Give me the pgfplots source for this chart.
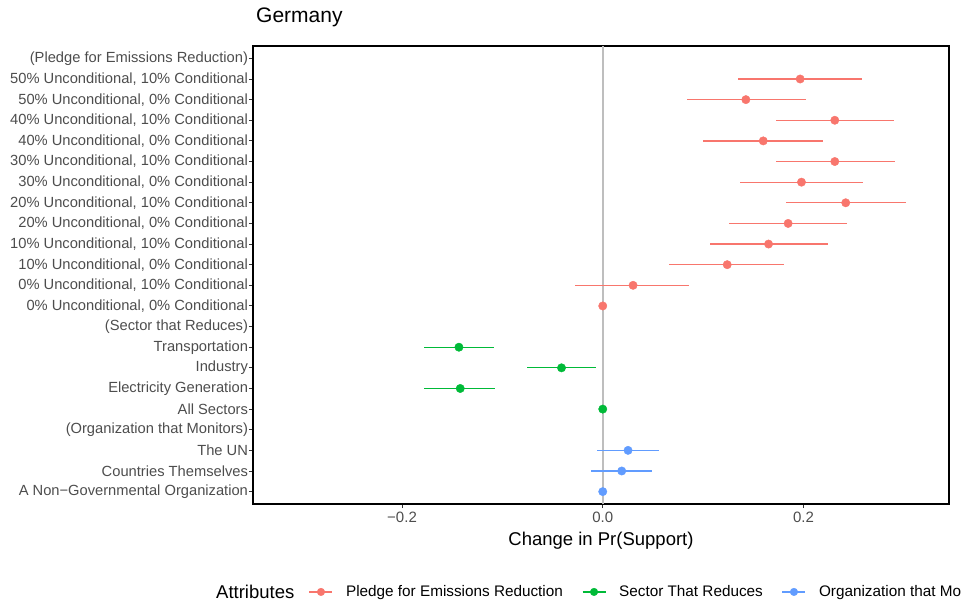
\documentclass[border=0pt]{standalone}
\usepackage{pgfplots}
\pgfplotsset{compat=1.18}
\usepackage{pgfplotstable}
\usepackage{fontspec}
\setmainfont{Liberation Sans}
\definecolor{cR}{HTML}{F8766D}
\definecolor{cG}{HTML}{00BA38}
\definecolor{cB}{HTML}{619CFF}
\definecolor{txt}{HTML}{4D4D4D}
\definecolor{zl}{HTML}{BEBEBE}

\pgfplotstableread{
x y lo hi
0 10 0 0
0.0302 11 -0.0272 0.0862
0.1240 12 0.0663 0.1808
0.1652 13 0.1068 0.2245
0.1847 14 0.1254 0.2434
0.2421 15 0.1821 0.3022
0.1980 16 0.1366 0.2590
0.2312 17 0.1728 0.2912
0.1599 18 0.0998 0.2199
0.2312 19 0.1725 0.2902
0.1426 20 0.0836 0.2027
0.1967 21 0.1346 0.2587
}\pledge

\pgfplotstableread{
x y lo hi
0 5 0 0
-0.1420 6 -0.1781 -0.1071
-0.0411 7 -0.0759 -0.0063
-0.1433 8 -0.1781 -0.1081
}\sector

\pgfplotstableread{
x y lo hi
0 1 0 0
0.0189 2 -0.0119 0.0494
0.0252 3 -0.0053 0.0557
}\org

\begin{document}
\begin{tikzpicture}
\useasboundingbox (0pt,0pt) rectangle (961pt,608pt);
\clip (0pt,0pt) rectangle (961pt,608pt);
\begin{axis}[
  at={(253pt,104pt)}, anchor=south west,
  scale only axis, width=696pt, height=458pt,
  xmin=-0.3485, xmax=0.345, ymin=0.4, ymax=22.6,
  axis line style={line width=1.2pt, black},
  xtick={-0.2,0,0.2},
  xticklabels={−0.2,0.0,0.2},
  ytick={1,...,22},
  yticklabels={A Non−Governmental Organization, Countries Themselves, The UN, (Organization that Monitors), All Sectors, Electricity Generation, Industry, Transportation, (Sector that Reduces), {0\% Unconditional, 0\% Conditional}, {0\% Unconditional, 10\% Conditional}, {10\% Unconditional, 0\% Conditional}, {10\% Unconditional, 10\% Conditional}, {20\% Unconditional, 0\% Conditional}, {20\% Unconditional, 10\% Conditional}, {30\% Unconditional, 0\% Conditional}, {30\% Unconditional, 10\% Conditional}, {40\% Unconditional, 0\% Conditional}, {40\% Unconditional, 10\% Conditional}, {50\% Unconditional, 0\% Conditional}, {50\% Unconditional, 10\% Conditional}, (Pledge for Emissions Reduction)},
  tick align=outside, major tick length=4pt,
  tick style={line width=0.9pt, color=black!80},
  xtick pos=bottom, ytick pos=left,
  xticklabel style={font=\fontsize{15}{15}\selectfont, text=txt},
  yticklabel style={font=\fontsize{14.7}{14.7}\selectfont, text=txt, xshift=2.5pt},
  xlabel={Change in Pr(Support)},
  xlabel style={font=\fontsize{18.5}{18.5}\selectfont, at={(axis description cs:0.5,-0.0808)}, anchor=center},
  legend columns=3,
  legend style={draw=none, fill=none, at={(axis description cs:0.08,-0.192)}, anchor=west,
    font=\fontsize{15.3}{15.3}\selectfont, inner sep=0pt, nodes={inner sep=0pt},
    /tikz/every odd column/.append style={column sep=13pt},
    /tikz/every even column/.append style={column sep=19pt}},
  legend cell align=left,
]
\addplot[zl, line width=1.6pt, forget plot] coordinates {(0,0.4) (0,22.6)};
\addplot[cR, only marks, mark=*, mark size=4.2pt,
  legend image code/.code={\draw[cR, line width=1.2pt] (0pt,0pt)--(23pt,0pt); \fill[cR] (11.5pt,0pt) circle (3.8pt);},
  error bars/.cd, x dir=both, x explicit, error mark=none,
  error bar style={line width=1.25pt, cR}]
  table[x=x, y=y, x error plus expr=\thisrow{hi}-\thisrow{x}, x error minus expr=\thisrow{x}-\thisrow{lo}] {\pledge};
\addplot[cG, only marks, mark=*, mark size=4.2pt,
  legend image code/.code={\draw[cG, line width=1.2pt] (0pt,0pt)--(23pt,0pt); \fill[cG] (11.5pt,0pt) circle (3.8pt);},
  error bars/.cd, x dir=both, x explicit, error mark=none,
  error bar style={line width=1.25pt, cG}]
  table[x=x, y=y, x error plus expr=\thisrow{hi}-\thisrow{x}, x error minus expr=\thisrow{x}-\thisrow{lo}] {\sector};
\addplot[cB, only marks, mark=*, mark size=4.2pt,
  legend image code/.code={\draw[cB, line width=1.2pt] (0pt,0pt)--(23pt,0pt); \fill[cB] (11.5pt,0pt) circle (3.8pt);},
  error bars/.cd, x dir=both, x explicit, error mark=none,
  error bar style={line width=1.25pt, cB}]
  table[x=x, y=y, x error plus expr=\thisrow{hi}-\thisrow{x}, x error minus expr=\thisrow{x}-\thisrow{lo}] {\org};
\legend{Pledge for Emissions Reduction, Sector That Reduces, Organization that Monitors}
\end{axis}
\node[anchor=west, inner sep=0pt, font=\fontsize{21}{21}\selectfont] at (256pt,591pt) {Germany};
\node[anchor=west, inner sep=0pt, font=\fontsize{18.5}{18.5}\selectfont] at (216pt,16pt) {Attributes};
\end{tikzpicture}
\end{document}
